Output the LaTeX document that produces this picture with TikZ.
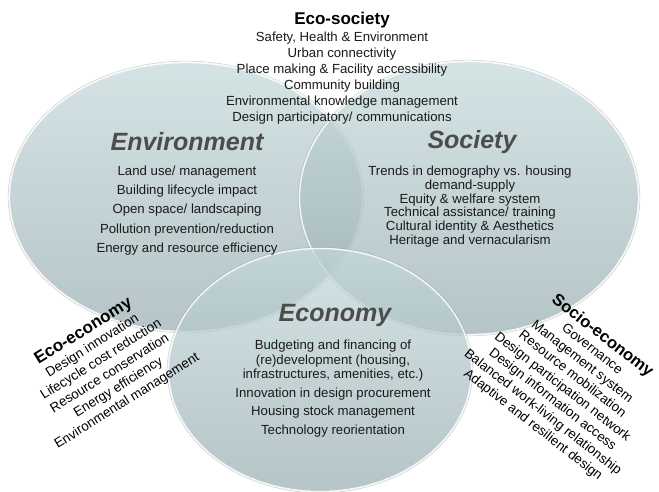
\documentclass[tikz,border=0pt]{standalone}
\usepackage{fontspec}
\setmainfont{Liberation Sans}
\usetikzlibrary{shapes.geometric}
\definecolor{ringtop}{HTML}{C3D8DA}
\definecolor{ringbot}{HTML}{97ACB0}
\definecolor{headgray}{HTML}{4C4C4C}
\definecolor{txt}{HTML}{1A1A1A}
\tikzset{
  ring/.style={top color=ringtop, bottom color=ringbot, fill opacity=0.7},
  rim/.style={draw=white, draw opacity=0.85, line width=1.4pt},
  rimshade/.style={draw=gray!70, draw opacity=0.6, line width=0.5pt},
  heading/.style={font=\fontsize{25}{28}\selectfont\bfseries\itshape, text=headgray, inner sep=0pt},
  items/.style={font=\fontsize{13.2}{19.2}\selectfont, text=txt, align=center, inner sep=0pt},
  ttl/.style={font=\fontsize{17}{19}\selectfont\bfseries, text=black, inner sep=0pt},
  side/.style={font=\fontsize{13.4}{16.3}\selectfont, text=black, align=center, inner sep=0pt}
}
\begin{document}
\begin{tikzpicture}[x=1pt,y=-1pt]
\useasboundingbox[fill=white] (0,0) rectangle (659,492);
% Environment
\shade[ring] (186,197) ellipse [x radius=177pt, y radius=135pt];
\draw[rimshade] (186,197) ellipse [x radius=177.8pt, y radius=135.8pt];
\draw[rim] (186,197) ellipse [x radius=176.5pt, y radius=134.5pt];
% Society
\shade[ring] (469,198) ellipse [x radius=170pt, y radius=137pt];
\draw[rimshade] (469,198) ellipse [x radius=170.8pt, y radius=137.8pt];
\draw[rim] (469,198) ellipse [x radius=169.5pt, y radius=136.5pt];
% Economy
\shade[ring] (320,370) ellipse [x radius=152pt, y radius=122pt];
\draw[rimshade] (320,370) ellipse [x radius=152.8pt, y radius=122.8pt];
\draw[rim] (320,370) ellipse [x radius=151.5pt, y radius=121.5pt];

% Eco-society
\node[ttl] (ecosoc) at (342,20) {Eco-society};
\node[items, font=\fontsize{13.2}{16}\selectfont] (ecosoclist) at (342,78) {Safety, Health \& Environment\\Urban connectivity\\Place making \& Facility accessibility\\Community building\\Environmental knowledge management\\Design participatory/ communications};

% Environment
\node[heading] (envh) at (187,142) {Environment};
\node[items] (envlist) at (187,210.5) {Land use/ management\\Building lifecycle impact\\Open space/ landscaping\\Pollution prevention/reduction\\Energy and resource efficiency};

% Society
\node[heading] (soch) at (472,142) {Society};
\node[items, font=\fontsize{13.2}{13.8}\selectfont] (soclist) at (470,206.5) {Trends in demography vs. housing\\demand-supply\\Equity \& welfare system\\Technical assistance/ training\\Cultural identity \& Aesthetics\\Heritage and vernacularism};

% Economy
\node[heading] (ecoh) at (335,315) {Economy};
\node[items, font=\fontsize{13.2}{14.5}\selectfont] (ecolist) at (333,388.5) {Budgeting and financing of\\(re)development (housing,\\infrastructures, amenities, etc.)\\[4pt]Innovation in design procurement\\[4pt]Housing stock management\\[4pt]Technology reorientation};

% Eco-economy
\node[side, rotate=32] (ecoeco) at (105,366) {{\fontsize{17}{16.3}\selectfont\bfseries Eco-economy}\\Design innovation\\Lifecycle cost reduction\\Resource conservation\\Energy efficiency\\Environmental management};

% Socio-economy
\node[side, font=\fontsize{13.4}{16}\selectfont, rotate=-38] (socioeco) at (568,380) {{\fontsize{16.6}{16}\selectfont\bfseries Socio-economy}\\Governance\\Management system\\Resource mobilization\\Design participation network\\Design information access\\Balanced work-living relationship\\Adaptive and resilient design};
\end{tikzpicture}
\end{document}
